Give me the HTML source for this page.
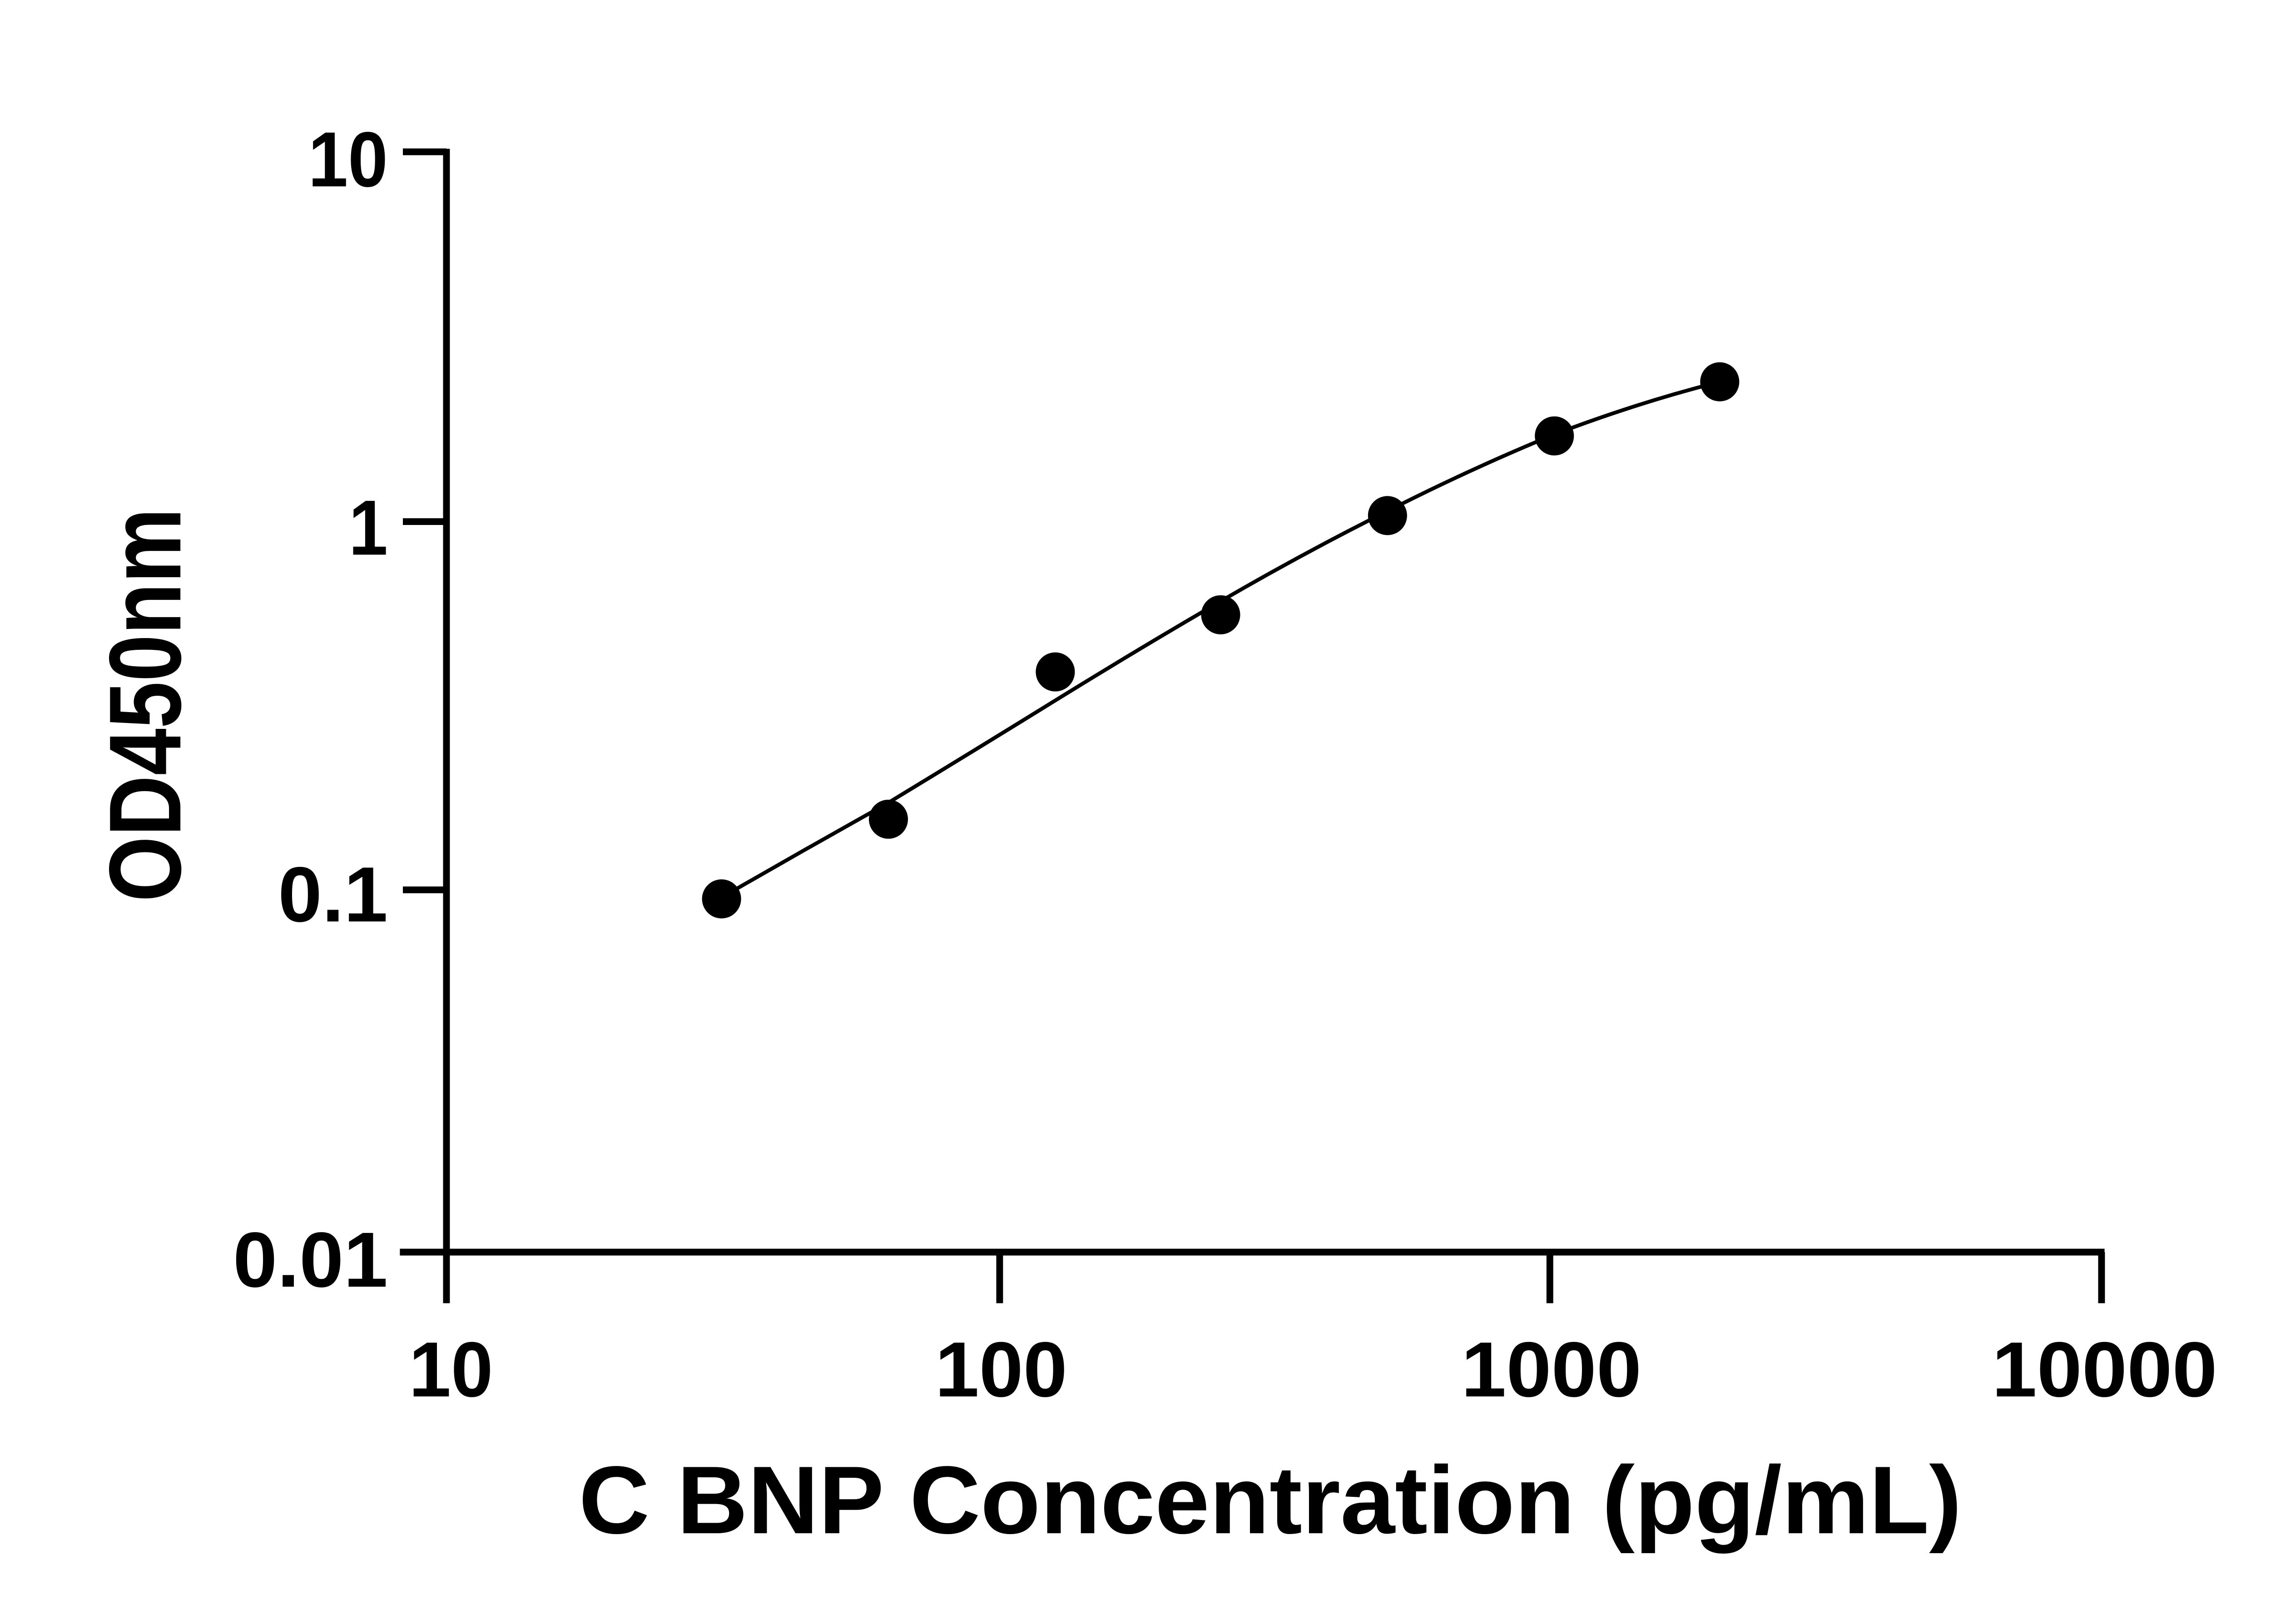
<!DOCTYPE html>
<html><head><meta charset="utf-8"><style>
html,body{margin:0;padding:0;background:#fff;}
svg{display:block;}
text{font-family:"Liberation Sans",sans-serif;font-weight:bold;fill:#000;}
</style></head><body>
<svg width="5130" height="3576" viewBox="0 0 1550 1080.4" preserveAspectRatio="none" xmlns="http://www.w3.org/2000/svg">
<g stroke="#000" stroke-width="4.5" fill="none">
<line x1="297" y1="99" x2="297" y2="867"/>
<line x1="266" y1="833" x2="1400" y2="833"/>
<line x1="268" y1="101" x2="297" y2="101"/>
<line x1="268" y1="347" x2="297" y2="347"/>
<line x1="268" y1="592" x2="297" y2="592"/>
<line x1="665" y1="833" x2="665" y2="867"/>
<line x1="1031" y1="833" x2="1031" y2="867"/>
<line x1="1398" y1="833" x2="1398" y2="867"/>
</g>
<path d="M480,597 L536,565 L591,534 Q647,500 702,466 Q757,432 812,400 Q867,368 923,340 Q978,312 1034,289 Q1089,268 1144,254" stroke="#000" stroke-width="2.5" fill="none"/>
<g fill="#000">
<circle cx="480" cy="598" r="13"/>
<circle cx="591" cy="545" r="13"/>
<circle cx="702" cy="447" r="13"/>
<circle cx="812" cy="409" r="13"/>
<circle cx="923" cy="343" r="13"/>
<circle cx="1034" cy="290" r="13"/>
<circle cx="1144" cy="254" r="13"/>
</g>
<g font-size="52">
<text x="205" y="124" textLength="53" lengthAdjust="spacingAndGlyphs">10</text>
<text x="232" y="369" textLength="26" lengthAdjust="spacingAndGlyphs">1</text>
<text x="185" y="613" textLength="73" lengthAdjust="spacingAndGlyphs">0.1</text>
<text x="155" y="856" textLength="103" lengthAdjust="spacingAndGlyphs">0.01</text>
</g>
<g font-size="52">
<text x="272" y="929" textLength="56" lengthAdjust="spacingAndGlyphs">10</text>
<text x="622" y="929" textLength="88" lengthAdjust="spacingAndGlyphs">100</text>
<text x="972" y="929" textLength="120" lengthAdjust="spacingAndGlyphs">1000</text>
<text x="1325" y="929" textLength="150" lengthAdjust="spacingAndGlyphs">10000</text>
</g>
<text x="385" y="1020" font-size="64" textLength="920" lengthAdjust="spacingAndGlyphs">C BNP Concentration (pg/mL)</text>
<text x="0" y="0" font-size="68" textLength="262" lengthAdjust="spacingAndGlyphs" transform="translate(120,600) rotate(-90)">OD450nm</text>
</svg>
</body></html>
